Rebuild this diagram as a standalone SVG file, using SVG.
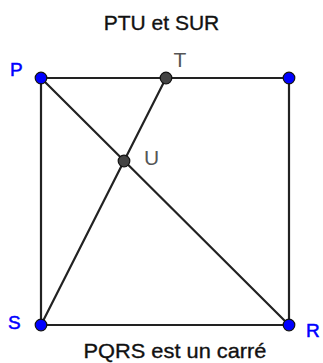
<svg xmlns="http://www.w3.org/2000/svg" width="323" height="363" viewBox="0 0 323 363">
<style>
.ln{stroke:#222;stroke-width:2.2;fill:none;stroke-linecap:round}
.bp{fill:#0000ff;stroke:#111;stroke-width:1.2}
.gp{fill:#444;stroke:#111;stroke-width:1.2}
.t{font-family:"Liberation Sans",Arial,sans-serif;font-size:21px;fill:#111;stroke:#111;stroke-width:0.35}
.bl{font-family:"Liberation Sans",Arial,sans-serif;font-size:19px;fill:#0000ff;stroke:#0000ff;stroke-width:0.5}
.gl{font-family:"Liberation Sans",Arial,sans-serif;font-size:21px;fill:#555}
</style>
<rect width="323" height="363" fill="#fff"/>
<text class="t" x="161.5" y="30" text-anchor="middle">PTU et SUR</text>
<text class="t" x="175" y="358" text-anchor="middle" textLength="183" lengthAdjust="spacingAndGlyphs">PQRS est un carré</text>
<g id="connectors">
<line class="ln" x1="41" y1="78" x2="289" y2="78"/>
<line class="ln" x1="289" y1="78" x2="289" y2="325"/>
<line class="ln" x1="289" y1="325" x2="41" y2="325"/>
<line class="ln" x1="41" y1="325" x2="41" y2="78"/>
<line class="ln" x1="41" y1="78" x2="289" y2="325"/>
<line class="ln" x1="41" y1="325" x2="166" y2="78"/>
</g>
<g id="P"><circle class="bp" cx="41" cy="78" r="5.8"/><text class="bl" x="10" y="76">P</text></g>
<g id="Q"><circle class="bp" cx="289" cy="78" r="5.8"/></g>
<g id="S"><circle class="bp" cx="41" cy="325" r="5.8"/><text class="bl" x="8" y="329">S</text></g>
<g id="R"><circle class="bp" cx="289" cy="325" r="5.8"/><text class="bl" x="306" y="337">R</text></g>
<g id="T"><circle class="gp" cx="166" cy="78" r="5.8"/><text class="gl" x="173.5" y="67">T</text></g>
<g id="U"><circle class="gp" cx="124" cy="161" r="5.8"/><text class="gl" x="144" y="165">U</text></g>
</svg>
